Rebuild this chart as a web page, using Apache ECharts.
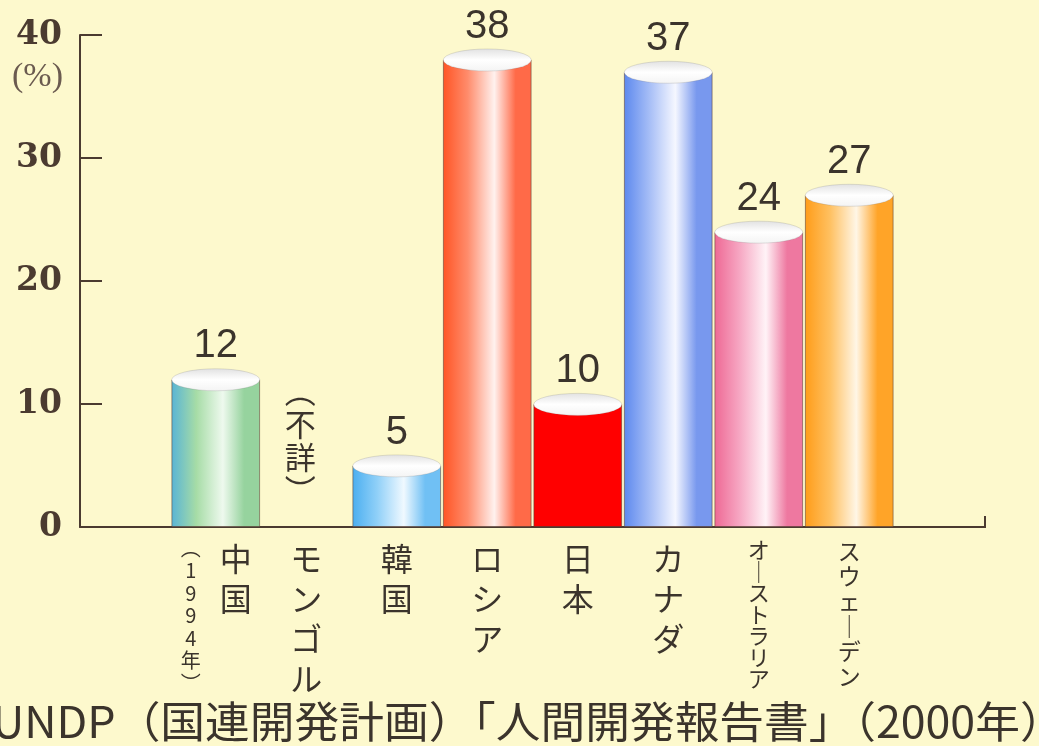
<!DOCTYPE html>
<html>
<head>
<meta charset="utf-8">
<script src="https://cdn.jsdelivr.net/npm/echarts@6/dist/echarts.min.js"></script>
<style>
  html, body { margin: 0; padding: 0; background: #fdf9cd; }
  #main { width: 1039px; height: 746px; }
</style>
</head>
<body>
<div id="main"></div>
<script>
// データ（%）
const countries = ['', '中国', 'モンゴル', '韓国', 'ロシア', '日本', 'カナダ', 'オーストラリア', 'スウェーデン', ''];
const values = [null, 12, null, 5, 38, 10, 37, 24, 27, null];
const yTicks = [0, 10, 20, 30, 40];
const unitText = '(%)';
const chinaNote = '︵1994年︶';
const mongoliaNote = '︵不詳︶';
const sourceText = 'UNDP（国連開発計画）「人間開発報告書」（2000年）';

// 円柱の色 [左端, 中間, ハイライト, 右側]
const barColors = {
  '中国': ['#58b4d6', '#a6dca6', '#eef9ee', '#96d39e'],
  '韓国': ['#4aaef0', '#90d0f8', '#f0f9ff', '#70c0f4'],
  'ロシア': ['#ff5424', '#ff8c6c', '#fff1ee', '#ff6a48'],
  '日本': null,
  'カナダ': ['#5c88ee', '#a4bcf6', '#f5f7ff', '#7898ee'],
  'オーストラリア': ['#ee6894', '#f6a6c2', '#fff3f7', '#ee78a0'],
  'スウェーデン': ['#ff9c18', '#ffc060', '#fff6e6', '#ffa428'],
};

const ink = '#3b342c';
const axisInk = '#4b3b30';
const gridLeft = 80, gridRight = 54, gridTop = 35, gridBottom = 219;

function cylinderFill(name) {
  const c = barColors[name];
  if (!c) return '#ff0000';
  return new echarts.graphic.LinearGradient(0, 0, 1, 0, [
    { offset: 0, color: c[0] },
    { offset: 0.28, color: c[1] },
    { offset: 0.58, color: c[2] },
    { offset: 0.82, color: c[3] },
    { offset: 1, color: c[3] },
  ]);
}

function vertical(s) {
  return s.split('').map(function (ch) { return ch === 'ー' ? '｜' : ch; }).join('\n');
}

const barData = countries.map(function (c, i) {
  if (values[i] == null) return '-';
  return {
    value: values[i],
    itemStyle: { color: cylinderFill(c) },
  };
});
const capData = values.map(function (v) { return v == null ? '-' : v; });

let option = {
  backgroundColor: '#fdf9cd',
  animation: false,
  grid: { left: gridLeft, right: gridRight, top: gridTop, bottom: gridBottom },
  xAxis: {
    type: 'category',
    data: countries,
    axisLine: { lineStyle: { color: axisInk, width: 2 } },
    axisTick: { show: false },
    axisLabel: {
      interval: 0,
      margin: 12,
      verticalAlign: 'top',
      formatter: function (v) {
        if (!v) return '';
        let st = 'b';
        if (v === '中国') st = 'c';
        else if (v.length === 7) st = 's7';
        else if (v.length === 6) st = 's6';
        return '{' + st + '|' + vertical(v) + '}';
      },
      rich: {
        b: { fontFamily: 'Noto Sans CJK JP', fontSize: 32, lineHeight: 40, color: ink },
        c: { fontFamily: 'Noto Sans CJK JP', fontSize: 32, lineHeight: 40, color: ink, padding: [0, 0, 0, 40] },
        s7: { fontFamily: 'Noto Sans CJK JP', fontSize: 22, lineHeight: 21.5, color: ink },
        s6: { fontFamily: 'Noto Sans CJK JP', fontSize: 23, lineHeight: 25, color: ink },
      },
    },
  },
  yAxis: {
    type: 'value',
    min: yTicks[0],
    max: yTicks[yTicks.length - 1],
    interval: 10,
    axisLine: { show: true, lineStyle: { color: axisInk, width: 2 } },
    axisTick: { show: true, inside: true, length: 22, lineStyle: { color: axisInk, width: 2 } },
    axisLabel: {
      margin: 18,
      fontFamily: 'DejaVu Serif',
      fontWeight: 'bold',
      fontSize: 33,
      color: axisInk,
    },
    splitLine: { show: false },
  },
  series: [
    {
      type: 'bar',
      data: barData,
      barWidth: '98%',
      itemStyle: { borderColor: 'rgba(90,60,50,0.55)', borderWidth: 1 },
      label: {
        show: true,
        position: 'top',
        distance: 13,
        fontFamily: 'Liberation Sans',
        fontSize: 40,
        color: ink,
      },
      z: 2,
    },
    {
      type: 'pictorialBar',
      data: capData,
      symbol: 'circle',
      symbolSize: [88, 22],
      symbolPosition: 'end',
      symbolOffset: [0, '-50%'],
      itemStyle: {
        color: new echarts.graphic.LinearGradient(0, 0, 0, 1, [
          { offset: 0, color: '#e2e2e2' },
          { offset: 0.5, color: '#ffffff' },
          { offset: 1, color: '#f4f4f4' },
        ]),
        borderColor: '#6d6d6d',
        borderWidth: 1.5,
      },
      z: 3,
    },
  ],
};

let chartDom = document.getElementById('main');
let myChart = echarts.init(chartDom);
myChart.setOption(option);

// 注記（軸の座標から位置を取る）
const chinaX = myChart.convertToPixel({ xAxisIndex: 0 }, '中国');
const mongolX = myChart.convertToPixel({ xAxisIndex: 0 }, 'モンゴル');
const zeroY = myChart.convertToPixel({ yAxisIndex: 0 }, 0);
const rightX = 1039 - gridRight;

myChart.setOption({
  graphic: [
    {
      type: 'text', left: 12, top: 60,
      style: { text: unitText, font: '34px "Liberation Serif"', fill: '#6b5b50' },
    },
    {
      type: 'text', x: chinaX - 25, y: zeroY + 10,
      style: {
        text: vertical(chinaNote), font: '20px "Noto Sans CJK JP"', lineHeight: 22.5,
        fill: ink, align: 'center', verticalAlign: 'top',
      },
    },
    {
      type: 'text', x: mongolX - 6, y: zeroY - 20,
      style: {
        text: vertical(mongoliaNote), font: '31px "Noto Sans CJK JP"', lineHeight: 33,
        fill: ink, align: 'center', verticalAlign: 'bottom',
      },
    },
    {
      type: 'line',
      shape: { x1: rightX, y1: zeroY + 1, x2: rightX, y2: zeroY - 11 },
      style: { stroke: axisInk, lineWidth: 2 },
    },
    {
      type: 'text', x: -8, y: 722, scaleX: 1.04,
      style: { text: sourceText, font: '43px "Noto Sans CJK JP"', fill: ink, verticalAlign: 'middle' },
    },
  ],
});

window.onresize = function () {
  myChart.resize();
};
</script>
</body>
</html>
